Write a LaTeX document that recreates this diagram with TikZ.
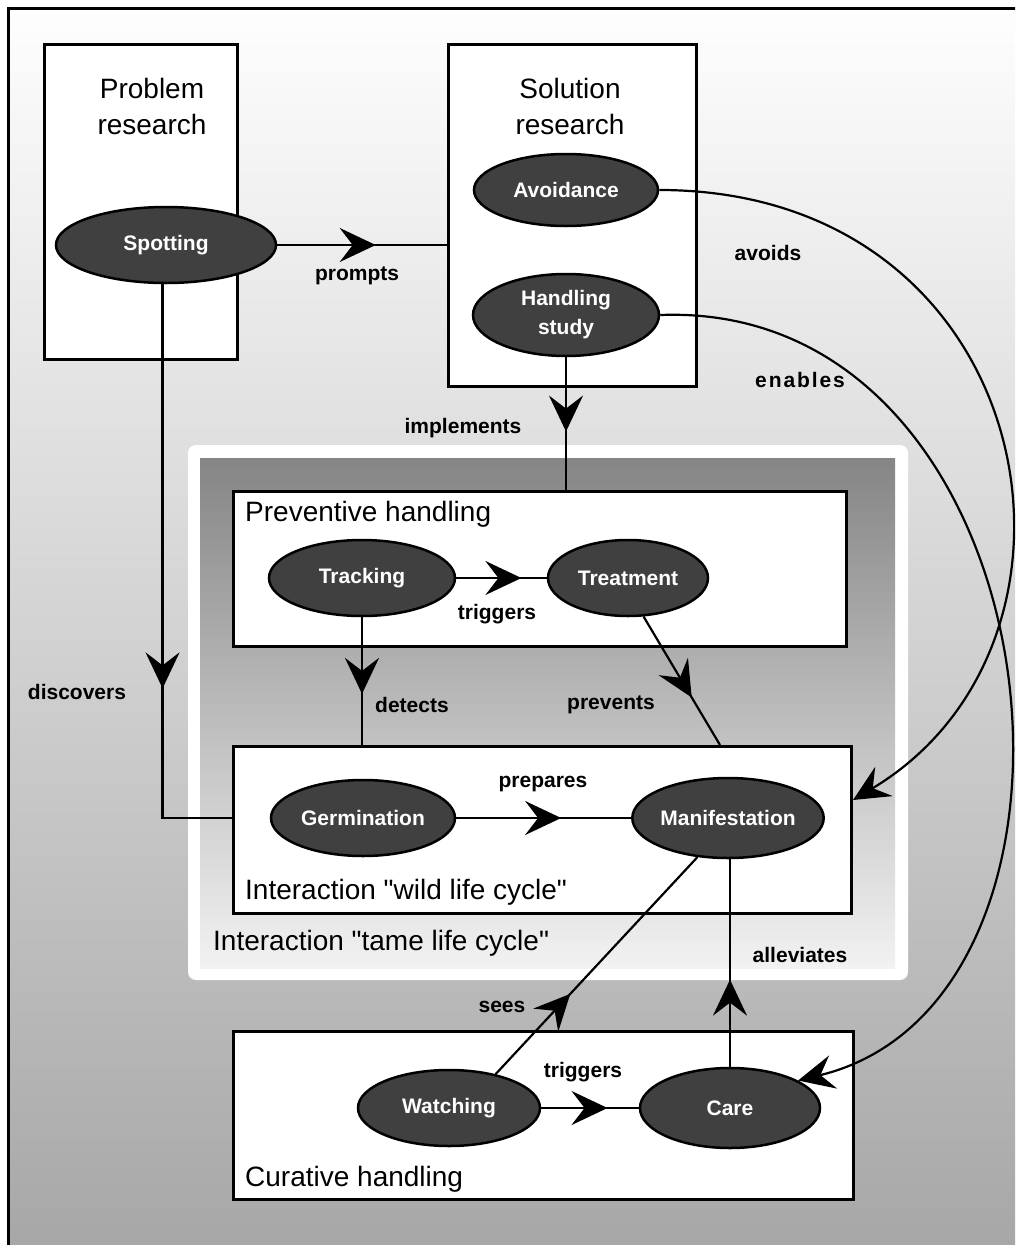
\documentclass[tikz,border=0pt]{standalone}
\usepackage{fontspec}
\setmainfont{Liberation Sans}
\newfontfamily\quotefont{Liberation Sans}
\usetikzlibrary{shapes.geometric,arrows.meta,decorations.markings,calc}
\definecolor{ovalgray}{HTML}{404040}
\definecolor{bgtop}{HTML}{FEFEFE}
\definecolor{bgbot}{HTML}{A6A6A6}
\definecolor{zonetop}{HTML}{858585}
\definecolor{zonebot}{HTML}{F2F2F2}
\newcommand{\dq}{{\quotefont"}}
\begin{document}
\begin{tikzpicture}[x=1pt,y=-1pt,
  frame/.style={draw=black,line width=3pt,fill=white,inner sep=0pt,anchor=north west},
  oval/.style={ellipse,draw=black,line width=2.5pt,fill=ovalgray,text=white,
    font=\fontsize{21}{29}\selectfont\bfseries,inner sep=0pt,align=center},
  title/.style={font=\fontsize{28}{36}\selectfont,align=center,inner sep=0pt},
  lbl/.style={font=\fontsize{21}{24}\selectfont\bfseries,inner sep=0pt},
  conn/.style={line width=2.2pt},
  bigtip/.style={-{Stealth[length=36pt,width=34pt,inset=13pt]}},
  midarrow/.style={postaction={decorate},decoration={markings,
    mark=at position #1 with {\arrow{Stealth[length=36pt,width=34pt,inset=13pt]}}}}
]
% page and background
\path[use as bounding box] (0,0) rectangle (1015,1245);
\clip (0,0) rectangle (1015,1245);
\fill[white] (0,0) rectangle (1015,1245);
\shade[top color=bgtop,bottom color=bgbot] (8,8) rectangle (1030,1260);
\draw[line width=3pt] (8,1260) -- (8,8) -- (1030,8);

% life cycle zone
\fill[white,rounded corners=8pt] (188,445) rectangle (908,980);
\shade[top color=zonetop,bottom color=zonebot] (200,458) rectangle (895,968);

% boxes
\node[frame,minimum width=193pt,minimum height=315pt] (probbox) at (43,43) {};
\node[frame,minimum width=248pt,minimum height=342pt] (solbox) at (447,43) {};
\node[frame,minimum width=613pt,minimum height=155pt] (prevbox) at (232,490) {};
\node[frame,minimum width=618pt,minimum height=167pt] (wildbox) at (232,745) {};
\node[frame,minimum width=620pt,minimum height=168pt] (curbox) at (232,1030) {};

% titles
\node[title] (probtitle) at (152,106) {Problem\\research};
\node[title] (soltitle) at (570,106) {Solution\\research};
\node[title,anchor=base west] (prevtitle) at (245,521) {Preventive handling};
\node[title,anchor=base west] (wildtitle) at (245,899) {Interaction \dq wild life cycle\dq};
\node[title,anchor=base west] (tametitle) at (213,950) {Interaction \dq tame life cycle\dq};
\node[title,anchor=base west] (curtitle) at (245,1186) {Curative handling};

% activities
\node[oval,minimum width=220pt,minimum height=76pt] (spot) at (166,245) {Spotting};
\node[oval,minimum width=184pt,minimum height=72pt] (avoid) at (566,190) {Avoidance};
\node[oval,minimum width=186pt,minimum height=82pt] (handl) at (566,315) {Handling\\study};
\node[oval,minimum width=186pt,minimum height=76pt] (track) at (362,578) {Tracking};
\node[oval,minimum width=160pt,minimum height=76pt] (treat) at (628,578) {Treatment};
\node[oval,minimum width=184pt,minimum height=76pt] (germ) at (363,818) {Germination};
\node[oval,minimum width=184pt,minimum height=80pt] (manif) at (728,818) {Manifestation};
\node[oval,minimum width=182pt,minimum height=76pt] (watch) at (449,1108) {Watching};
\node[oval,minimum width=180pt,minimum height=80pt] (care) at (730,1108) {Care};

% connectors
\draw[conn,midarrow=0.58] (spot.east) -- (spot.east -| solbox.west);
\draw[conn,midarrow=0.67] (spot.-95) |- (wildbox.west |- germ);
\draw[conn,midarrow=0.56] (handl.south) -- (handl.south |- prevbox.north);
\draw[conn,midarrow=0.72] (track.east) -- (treat.west);
\draw[conn,midarrow=0.6] (track.south) -- (track.south |- wildbox.north);
\draw[conn,midarrow=0.63] (treat.-68) -- ($(wildbox.north west)+(488,0)$);
\draw[conn,midarrow=0.6] (germ.east) -- (manif.west);
\draw[conn,midarrow=0.68] (watch.east) -- (care.west);
\draw[conn,midarrow=0.37] (watch.36) -- (manif.-128);
\draw[conn,midarrow=0.42] (care.north) -- (care.north |- manif.south);
\draw[conn,bigtip] (avoid.east) .. controls (1040,190) and (1120,640) .. ($(wildbox.north east)+(0,55)$);
\draw[conn,bigtip] (handl.east) .. controls (1060,300) and (1130,1000) .. (care.22);

% connector labels
\node[lbl] (lprompts) at (357,276) {prompts};
\node[lbl] (ldiscovers) at (77,692) {discovers};
\node[lbl] (limplements) at (463,428) {implements};
\node[lbl] (ltriggersa) at (497,614) {triggers};
\node[lbl] (ldetects) at (412,705) {detects};
\node[lbl] (lprevents) at (611,705) {prevents};
\node[lbl] (lprepares) at (543,784) {prepares};
\node[lbl] (lsees) at (502,1007) {sees};
\node[lbl] (ltriggersb) at (583,1072) {triggers};
\node[lbl] (lalleviates) at (800,955) {alleviates};
\node[lbl] (lavoids) at (768,253) {avoids};
\node[lbl,font=\fontsize{21}{24}\selectfont\bfseries\addfontfeature{LetterSpace=9}] (lenables) at (800,380) {enables};
\end{tikzpicture}
\end{document}
